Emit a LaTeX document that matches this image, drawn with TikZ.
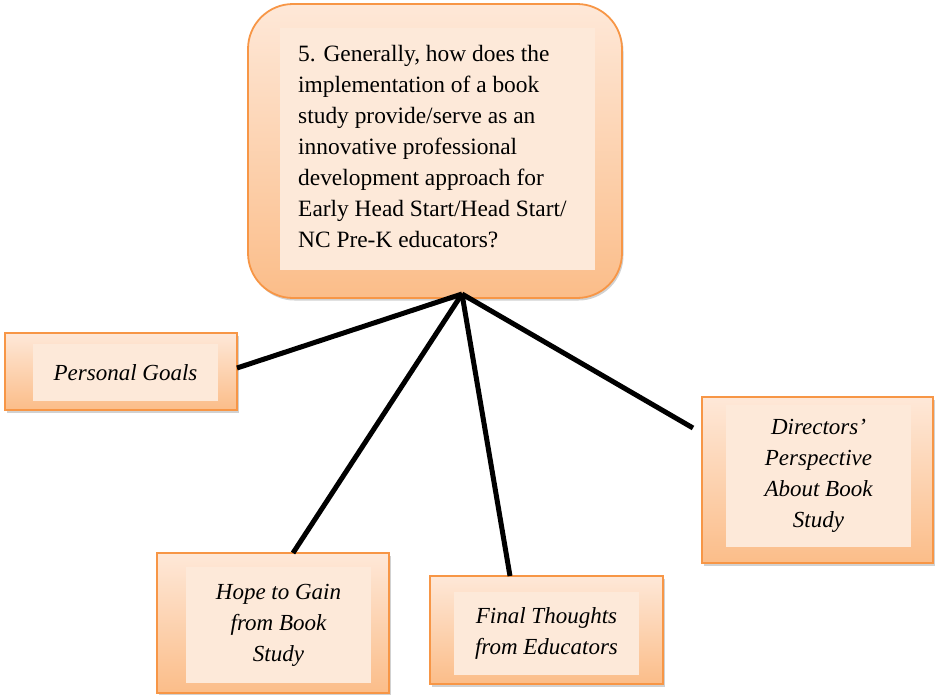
\documentclass[tikz,border=0pt]{standalone}
\usepackage{fontspec}
\setmainfont{Liberation Serif}
\usetikzlibrary{shadows}
\definecolor{boxorange}{HTML}{F79646}
\definecolor{peachtop}{HTML}{FEE8D8}
\definecolor{peachbot}{HTML}{FBBD89}
\definecolor{innerpeach}{HTML}{FDE9D9}
\tikzset{
  outerbox/.style={draw=boxorange, line width=1.8pt, top color=peachtop, bottom color=peachbot,
    drop shadow={opacity=0.3, shadow xshift=1.5pt, shadow yshift=-2.5pt, fill=black!60},
    inner sep=0pt, outer sep=0pt},
  innerbox/.style={fill=innerpeach, draw=none, inner sep=0pt, align=center,
    font={\fontsize{23}{31}\selectfont\itshape}},
  maintext/.style={inner sep=0pt, align=left, anchor=north west,
    font={\fontsize{23.4}{31}\selectfont}},
  link/.style={line width=5pt, draw=black}
}
\begin{document}
\begin{tikzpicture}[x=1pt,y=-1pt]
\useasboundingbox (0,0) rectangle (935,694);
% main question box
\node[outerbox, rounded corners=45pt, minimum width=374pt, minimum height=294pt] (main) at (435,151) {};
\node[innerbox, minimum width=315pt, minimum height=242pt] (maininner) at (437.5,149) {};
\node[maintext] (q) at (298,45) {5. Generally, how does the\\implementation of a book\\study provide/serve as an\\innovative professional\\development approach for\\Early Head Start/Head Start/\\NC Pre-K educators?};
% child boxes
\node[outerbox, minimum width=232pt, minimum height=77pt] (pg) at (121,371.5) {};
\node[innerbox, minimum width=185pt, minimum height=57pt] (pgt) at (125.5,372.5) {Personal Goals};
\node[outerbox, minimum width=231pt, minimum height=166pt] (dr) at (817.5,480) {};
\node[innerbox, minimum width=185pt, minimum height=142pt] (drt) at (818.5,476) {Directors’\\Perspective\\About Book\\Study};
\node[outerbox, minimum width=232pt, minimum height=140pt] (hp) at (273,623) {};
\node[innerbox, minimum width=185pt, minimum height=116pt] (hpt) at (278.5,625) {Hope to Gain\\from Book\\Study};
\node[outerbox, minimum width=233pt, minimum height=108pt] (fn) at (546.5,630) {};
\node[innerbox, minimum width=185pt, minimum height=83pt] (fnt) at (546.5,633.5) {Final Thoughts\\from Educators};
% connectors
\coordinate (hub) at ([xshift=27pt,yshift=4pt]main.south);
\draw[link] (hub) -- ([yshift=3.5pt]pg.east);
\draw[link] (hub) -- ([xshift=20pt]hp.north);
\draw[link] (hub) -- ([xshift=-36.5pt]fn.north);
\draw[link] (hub) -- ([xshift=-9pt,yshift=52pt]dr.west);
\end{tikzpicture}
\end{document}
